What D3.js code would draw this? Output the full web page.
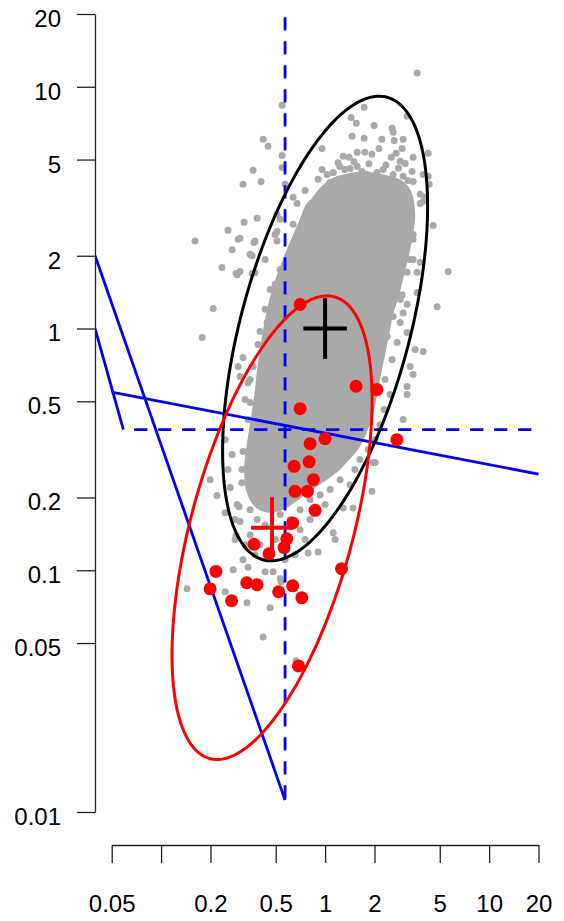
<!DOCTYPE html>
<html><head><meta charset="utf-8">
<script src="https://cdn.jsdelivr.net/npm/d3@7"></script>
<style>body{margin:0;background:#fff}svg{display:block}</style>
</head><body>
<svg id="chart" width="564" height="921"></svg>
<script>
// ---------- data ----------
const xTicks = [0.05, 0.1, 0.2, 0.5, 1, 2, 5, 10, 20];
const xTickLabels = ["0.05", "", "0.2", "0.5", "1", "2", "5", "10", "20"];
const yTicks = [0.01, 0.05, 0.1, 0.2, 0.5, 1, 2, 5, 10, 20];
const yTickLabels = ["0.01", "0.05", "0.1", "0.2", "0.5", "1", "2", "5", "10", "20"];

// outline of the dense, fully overlapping part of the grey cloud
const grayCore = [
[0.932,3.76],[1.10,4.14],[1.38,4.34],[1.68,4.42],[2.10,4.34],[2.56,4.22],[2.99,4.02],[3.30,3.69],
[3.49,2.97],[3.39,2.45],[3.21,2.03],[2.99,1.67],[2.79,1.38],[2.56,1.14],[2.42,0.944],
[2.29,0.781],[2.16,0.645],[2.05,0.533],[1.93,0.440],[1.78,0.375],[1.59,0.321],[1.38,0.287],[1.17,0.256],
[0.958,0.232],[0.788,0.212],[0.647,0.192],[0.532,0.178],[0.437,0.175],[0.369,0.187],[0.334,0.216],
[0.325,0.261],[0.334,0.3155],[0.349,0.382],[0.364,0.462],[0.379,0.559],[0.390,0.676],[0.407,0.819],
[0.425,0.991],[0.449,1.20],[0.482,1.45],[0.525,1.72],[0.578,2.03],[0.638,2.39],[0.704,2.78],[0.776,3.26],
[0.833,3.42]
];

// individual grey points around the dense part
const grayPoints = [
[3.64,11.4],[0.547,8.39],[1.73,8.23],[1.44,7.47],[1.55,7.06],[1.99,6.92],[2.56,6.73],[2.60,6.48],[3.16,7.55],
[0.419,6.06],[0.449,5.67],[1.46,6.24],[1.73,6.12],[2.22,6.06],[2.64,6.00],[2.99,6.06],[0.958,5.56],[0.547,5.20],
[0.547,4.64],[2.13,5.56],[2.95,5.56],[4.25,5.31],[1.57,5.36],[1.75,5.36],[1.93,5.26],[1.29,5.16],[1.40,5.11],
[2.53,5.11],[2.71,5.31],[3.44,5.11],[2.87,4.92],[3.08,4.82],[0.364,4.51],[0.407,4.06],[0.316,3.95],[3.39,4.46],
[3.96,4.34],[4.31,3.95],[3.44,4.06],[0.755,3.72],[0.570,3.95],
[0.958,4.55],[1.03,4.34],[1.12,4.42],[1.23,4.68],[1.32,4.55],[1.42,4.59],[1.57,4.68],[1.68,4.46],[1.80,4.34],
[2.07,4.42],[2.26,4.55],[2.60,4.34],[2.99,4.26],[1.07,4.02],[1.42,4.06],[1.88,4.02],[2.49,4.02],[0.907,4.14],
[1.20,4.85],[1.50,4.90],[1.85,4.80],[2.35,4.75],[2.80,4.60],[3.20,4.10],
[0.638,3.49],[0.675,3.29],[0.509,2.97],[0.532,2.83],[0.385,2.86],[0.321,2.75],[0.638,2.70],[0.369,2.27],
[0.295,2.34],[0.496,2.45],[0.509,2.30],[0.724,2.40],[0.776,2.40],[0.638,2.23],[0.256,2.55],[0.271,2.12],
[0.235,1.79],[0.291,1.67],[0.161,2.30],[0.208,1.21],[0.178,0.918],[0.349,2.03],[0.431,1.93],[0.509,2.52],
[0.462,1.45],[0.482,1.32],[0.401,0.972],[0.443,1.06],[0.287,1.69],[0.303,2.36],[0.374,2.30],[0.359,2.00],
[0.359,1.69],[0.316,0.758],[0.295,0.696],[0.303,0.633],[0.532,1.755],[0.496,1.52],[0.431,1.20],[0.390,0.859],
[0.349,0.615],[0.325,0.508],[0.339,0.420],[0.303,1.72],[0.374,1.70],[0.364,0.696],[0.339,0.597],[0.349,0.494],
[0.401,0.432],
[3.80,3.59],[4.07,3.49],[3.80,3.29],[3.30,2.65],[3.44,2.45],[4.56,2.67],[4.25,4.26],[3.96,3.36],[3.44,2.34],
[3.30,1.93],[3.80,1.88],[3.16,1.71],[3.64,1.41],[2.87,1.32],[2.99,1.16],[3.16,0.962],[2.75,0.875],[3.30,0.696],
[3.44,0.645],[2.56,0.744],[3.44,1.93],[3.64,1.71],[2.95,1.38],[3.16,1.26],[2.60,1.12],[2.87,1.06],[2.39,0.926],
[3.96,0.803],[4.82,1.23],[5.63,1.72],[3.54,0.819],[2.99,0.420],[3.16,0.575],[3.16,0.533],[2.32,0.615],[2.49,0.533],
[2.29,0.462],[2.16,0.400],[2.02,0.347],[1.83,0.316],[1.96,0.279],[1.63,0.287],[1.52,0.261],
[0.246,0.347],[0.316,0.310],[0.199,0.237],[0.219,0.204],[0.264,0.220],[0.311,0.230],[0.246,0.173],[0.291,0.187],
[0.303,0.159],[0.385,0.162],[0.283,0.134],[0.316,0.1105],[0.339,0.103],[0.275,0.1005],[0.431,0.0986],[0.482,0.0986],
[0.532,0.0923],[0.334,0.0734],[0.462,0.0700],[0.246,0.0814],[0.788,0.118],[0.907,0.119],[1.12,0.143],[1.15,0.134],
[1.29,0.181],[1.48,0.181],[1.93,0.212],[2.02,0.279],[0.299,0.183],[0.287,0.139],[0.144,0.0838],[0.419,0.0530],
[0.665,0.0422],[0.540,0.0897],[0.401,0.237],[0.462,0.216],[0.349,0.178],[0.431,0.154],[0.532,0.170],[0.612,0.162],
[0.704,0.178],[0.810,0.196],[0.932,0.2055],[1.073,0.2156],[1.234,0.237],[1.42,0.226],[0.704,0.147],[0.755,0.134],
[0.656,0.116],[0.496,0.134],[0.401,0.1275],[0.349,0.140],[0.570,0.1105],[0.810,0.162],[1.0,0.187],[0.374,0.116],
[0.325,0.1275],[0.271,0.301],[0.256,0.261],[0.283,0.162],[0.311,0.261]
];

const redPoints = [
[0.810,0.334],[1.00,0.350],[2.74,0.347],[0.647,0.269],[0.799,0.281],[0.849,0.237],[0.656,0.212],[0.780,0.212],
[0.869,0.177],[0.635,0.157],[0.584,0.135],[0.369,0.128],[0.562,0.124],[0.455,0.117],[1.26,0.1015],[0.216,0.0989],
[0.199,0.0838],[0.333,0.0888],[0.385,0.0871],[0.269,0.0748],[0.521,0.0815],[0.634,0.0862],[0.721,0.0769],
[0.704,1.257],[1.545,0.577],[2.07,0.559],[0.704,0.466],[0.688,0.0402]
];

// ellipses in log10 space: centre, log10 spreads, correlation
const blackEllipse = {center: [1.0, 1.0], spread: [0.625, 0.961], rho: 0.526};
const redEllipse   = {center: [0.475, 0.150], spread: [0.610, 0.959], rho: 0.549};

// crosses: centre with horizontal and vertical extents
const blackCross = {x: 1.0, y: 1.0, xRange: [0.737, 1.357], yRange: [0.749, 1.335]};
const redCross   = {x: 0.475, y: 0.150, xRange: [0.354, 0.638], yRange: [0.112, 0.2005]};

// blue reference lines (segment end points)
const blueSolid = [
  [[0.0396, 2.0], [0.570, 0.0112]],
  [[0.0396, 1.0], [0.0589, 0.382]],
  [[0.05, 0.545], [20, 0.25]]
];
const blueDashed = [
  [[0.570, 19.4], [0.570, 0.0112]],
  [[0.0589, 0.382], [20.4, 0.382]]
];

// ---------- drawing ----------
const svg = d3.select("#chart");
const x = d3.scaleLog().domain([0.05, 20]).range([111.7, 538.5]);
const y = d3.scaleLog().domain([0.01, 20]).range([812, 14]);
const FONT = "'Liberation Sans', Arial, Helvetica, sans-serif";

svg.append("defs").append("clipPath").attr("id", "plotclip")
  .append("rect").attr("x", 95).attr("y", 0).attr("width", 469).attr("height", 845);

const plot = svg.append("g").attr("clip-path", "url(#plotclip)");
const GRAY = "#a9a9a9";

plot.append("path")
  .attr("d", d3.line().x(d => x(d[0])).y(d => y(d[1])).curve(d3.curveCatmullRomClosed)(grayCore))
  .attr("fill", GRAY).attr("stroke", GRAY).attr("stroke-width", 2).attr("stroke-linejoin", "round");

plot.append("g").selectAll("circle").data(grayPoints).join("circle")
  .attr("cx", d => x(d[0])).attr("cy", d => y(d[1])).attr("r", 3.5).attr("fill", GRAY);

const seg = d3.line().x(d => x(d[0])).y(d => y(d[1]));
plot.append("g").selectAll("path").data(blueSolid).join("path")
  .attr("d", seg).attr("fill", "none").attr("stroke", "#0000ff").attr("stroke-width", 2.8);
plot.append("g").selectAll("path").data(blueDashed).join("path")
  .attr("d", seg).attr("fill", "none").attr("stroke", "#0000ff").attr("stroke-width", 2.8)
  .attr("stroke-dasharray", "13.3,10.7").attr("stroke-dashoffset", (d, i) => i === 1 ? 13.3 : 0);

function ellipsePts(e) {
  const cx = Math.log10(e.center[0]), cy = Math.log10(e.center[1]);
  const s = Math.sqrt(1 - e.rho * e.rho);
  return d3.range(0, 360, 2).map(a => {
    const t = a * Math.PI / 180;
    const lx = cx + e.spread[0] * Math.cos(t);
    const ly = cy + e.spread[1] * (e.rho * Math.cos(t) + s * Math.sin(t));
    return [Math.pow(10, lx), Math.pow(10, ly)];
  });
}
const closed = d3.line().x(d => x(d[0])).y(d => y(d[1])).curve(d3.curveLinearClosed);
plot.append("path").attr("d", closed(ellipsePts(blackEllipse)))
  .attr("fill", "none").attr("stroke", "#000").attr("stroke-width", 3);
plot.append("path").attr("d", closed(ellipsePts(redEllipse)))
  .attr("fill", "none").attr("stroke", "#ff0000").attr("stroke-width", 3);

function drawCross(c, color) {
  const g = plot.append("g").attr("stroke", color).attr("stroke-width", 4);
  g.append("line").attr("x1", x(c.xRange[0])).attr("x2", x(c.xRange[1]))
    .attr("y1", y(c.y)).attr("y2", y(c.y));
  g.append("line").attr("x1", x(c.x)).attr("x2", x(c.x))
    .attr("y1", y(c.yRange[0])).attr("y2", y(c.yRange[1]));
}
drawCross(blackCross, "#000");

plot.append("g").selectAll("circle").data(redPoints).join("circle")
  .attr("cx", d => x(d[0])).attr("cy", d => y(d[1])).attr("r", 6.5).attr("fill", "#ff0000");

drawCross(redCross, "#ff0000");

// axes
const xAxis = d3.axisBottom(x).tickValues(xTicks).tickFormat((d, i) => xTickLabels[i])
  .tickSize(18).tickSizeOuter(0).tickPadding(32);
const gx = svg.append("g").attr("transform", "translate(0,845)").call(xAxis);
const yAxis = d3.axisLeft(y).tickValues(yTicks).tickFormat((d, i) => yTickLabels[i])
  .tickSize(18).tickSizeOuter(0).tickPadding(16);
const gy = svg.append("g").attr("transform", "translate(95,0)").call(yAxis);
[gx, gy].forEach(g => {
  g.selectAll("path, line").attr("stroke", "#222").attr("stroke-width", 1.3);
  g.selectAll("text").attr("font-family", FONT).attr("font-size", 24).attr("fill", "#000");
});
gy.selectAll("text").attr("dy", "0.52em");
</script>
</body></html>
